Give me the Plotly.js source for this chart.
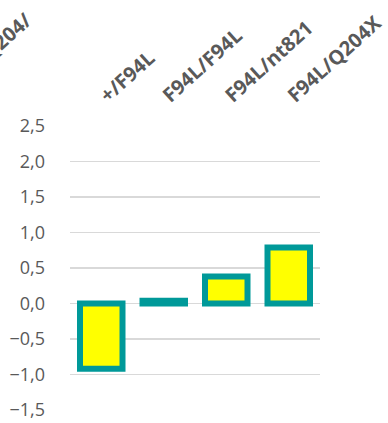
<!DOCTYPE html>
<html><head><meta charset="utf-8">
<script src="https://cdn.plot.ly/plotly-3.0.1.min.js"></script>
<style>html,body{margin:0;padding:0;background:#fff}#c{width:388px;height:423px}</style>
</head><body><div id="c"></div>
<script>
const categories = ["+/F94L", "F94L/F94L", "F94L/nt821", "F94L/Q204X"];
const values = [-0.92, 0.04, 0.38, 0.79];
const yTicks = [-1.5, -1.0, -0.5, 0.0, 0.5, 1.0, 1.5, 2.0, 2.5];

const trace = {
  type: "bar", x: categories, y: values, width: 0.68,
  marker: {color: "#FFFF00", line: {color: "#009999", width: 6}},
  hoverinfo: "skip"
};
const layout = {
  width: 388, height: 423,
  margin: {l: 70, r: 68, t: 126, b: 13},
  paper_bgcolor: "#fff", plot_bgcolor: "#fff",
  separators: ",.",
  showlegend: false,
  font: {family: "Open Sans, sans-serif", color: "#595959"},
  xaxis: {
    side: "top", tickangle: -42, showgrid: false, zeroline: false, showline: false,
    ticks: "", ticklabelstandoff: 15,
    tickfont: {size: 20, weight: "bold", color: "#595959", family: "Open Sans, sans-serif"}
  },
  yaxis: {
    range: [-1.5, 2.5], tickvals: yTicks, tickformat: ".1f",
    showgrid: true, gridcolor: "#d9d9d9", gridwidth: 1.3,
    zeroline: false, showline: false, ticks: "", ticklabelstandoff: 24,
    tickfont: {size: 18, color: "#595959", family: "Open Sans, sans-serif"}
  },
  annotations: [{
    xref: "paper", yref: "paper", x: -0.12, y: 1.43, xanchor: "right", yanchor: "top",
    text: "<b>Q204/</b>", textangle: -42, showarrow: false,
    font: {size: 20, color: "#595959", family: "Open Sans, sans-serif"}
  }]
};
Plotly.newPlot("c", [trace], layout, {staticPlot: true, displayModeBar: false});
</script></body></html>
